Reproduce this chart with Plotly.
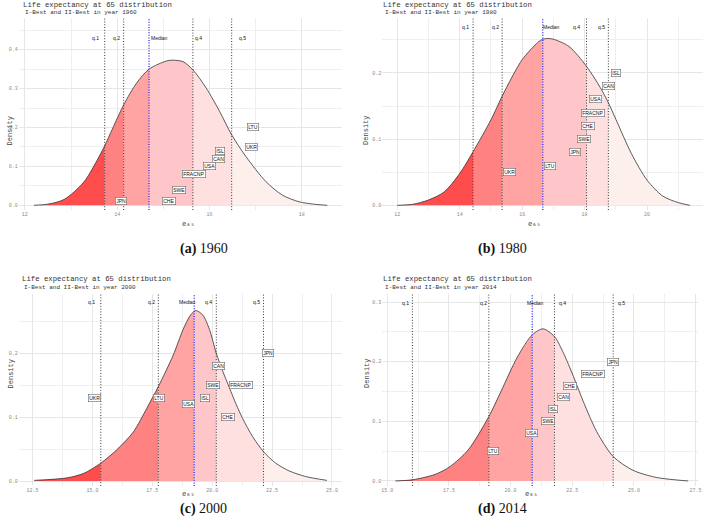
import plotly.graph_objects as go

W, H = 708, 530

# ---------------- data ----------------
years = [1960, 1980, 2000, 2014]
letters = ["a", "b", "c", "d"]

# density curves
x_1960 = [12.2, 12.5, 12.85, 13.28, 13.63, 13.73, 14.14, 14.42, 14.69, 15.07, 15.21, 15.43, 15.64,
          15.93, 16.22, 16.48, 16.79, 17.22, 17.58, 17.94, 18.25, 18.55]
d_1960 = [0.0, 0.003, 0.015, 0.06, 0.13, 0.153, 0.258, 0.314, 0.35, 0.371, 0.373, 0.369, 0.348,
          0.301, 0.241, 0.181, 0.125, 0.061, 0.026, 0.009, 0.003, 0.0]

x_1980 = [12.0, 12.5, 13.0, 13.5, 14.0, 14.43, 15.0, 15.36, 15.5, 16.0, 16.5, 16.66, 16.83, 17.0,
          17.5, 18.06, 18.5, 18.76, 19.0, 19.5, 20.0, 20.5, 21.0, 21.37]
d_1980 = [0.0, 0.0015, 0.008, 0.02, 0.048, 0.081, 0.129, 0.165, 0.178, 0.22, 0.246, 0.251, 0.252,
          0.251, 0.24, 0.21, 0.178, 0.155, 0.13, 0.078, 0.038, 0.014, 0.004, 0.0]

x_2000 = [12.57, 13.95, 14.64, 15.35, 16.02, 16.71, 17.27, 17.75, 18.37, 18.78, 19.06, 19.25, 19.34,
          19.61, 19.89, 20.17, 20.44, 20.72, 20.99, 21.27, 21.68, 22.14, 22.65, 23.2, 23.9, 24.79]
d_2000 = [0.001, 0.005, 0.012, 0.028, 0.049, 0.077, 0.114, 0.148, 0.197, 0.237, 0.258, 0.266, 0.267,
          0.26, 0.237, 0.2, 0.172, 0.146, 0.121, 0.098, 0.07, 0.046, 0.028, 0.016, 0.007, 0.001]

x_2014 = [15.33, 16.02, 16.94, 17.54, 18.28, 19.12, 19.61, 20.28, 20.88, 21.32, 21.78, 22.15, 22.55,
          22.95, 23.49, 24.16, 24.96, 25.9, 27.2]
d_2014 = [0.0, 0.002, 0.011, 0.024, 0.052, 0.108, 0.15, 0.208, 0.245, 0.255, 0.242, 0.214, 0.175,
          0.133, 0.083, 0.041, 0.018, 0.006, 0.0]

# quantiles (q.1, q.2, Median, q.4, q.5)
q_names = ["q.1", "q.2", "Median", "q.4", "q.5"]
q_1960 = [13.73, 14.14, 14.69, 15.64, 16.48]
q_1980 = [14.43, 15.36, 16.66, 18.06, 18.76]
q_2000 = [15.35, 17.75, 19.25, 20.17, 22.14]
q_2014 = [16.02, 19.12, 20.88, 21.78, 24.16]

qlab_x_1960 = [13.53, 13.98, 14.91, 15.76, 16.72]
qlab_x_1980 = [14.2, 15.15, 16.93, 17.73, 18.53]
qlab_x_2000 = [14.96, 17.47, 18.95, 19.86, 21.86]
qlab_x_2014 = [15.74, 18.92, 21.03, 22.09, 24.49]
qlab_y = [0.43, 0.27, 0.28, 0.299]

# country labels
c_1960 = ["LTU", "UKR", "ISL", "CAN", "USA", "FRACNP", "SWE", "JPN", "CHE"]
cx_1960 = [16.95, 16.90, 16.23, 16.2, 15.99, 15.66, 15.33, 14.08, 15.13]
cy_1960 = [0.2, 0.15, 0.14, 0.12, 0.10, 0.08, 0.04, 0.01, 0.01]

c_1980 = ["ISL", "CAN", "USA", "FRACNP", "CHE", "SWE", "JPN", "LTU", "UKR"]
cx_1980 = [19.0, 18.77, 18.35, 18.26, 18.1, 17.97, 17.68, 16.88, 15.58]
cy_1980 = [0.2, 0.18, 0.16, 0.14, 0.12, 0.10, 0.08, 0.06, 0.05]

c_2000 = ["JPN", "CAN", "SWE", "FRACNP", "UKR", "LTU", "ISL", "USA", "CHE"]
cx_2000 = [22.32, 20.25, 20.03, 21.2, 15.07, 17.76, 19.68, 19.02, 20.66]
cy_2000 = [0.2, 0.18, 0.15, 0.15, 0.13, 0.13, 0.13, 0.12, 0.10]

c_2014 = ["JPN", "FRACNP", "CHE", "CAN", "ISL", "SWE", "USA", "LTU"]
cx_2014 = [24.16, 23.33, 22.42, 22.15, 21.71, 21.5, 20.86, 19.29]
cy_2014 = [0.2, 0.18, 0.16, 0.14, 0.12, 0.10, 0.08, 0.05]

# axes
x_ranges = [[11.871, 18.86], [11.523, 21.79], [11.93, 25.4], [14.8, 27.6]]
y_ranges = [[-0.0121, 0.4814], [-0.0071, 0.283], [-0.0078, 0.293], [-0.0084, 0.3134]]
x_dticks = [2, 2, 2.5, 2.5]
x_formats = ["d", "d", ".1f", ".1f"]

seg_colors = ["#FF4D4D", "#FF8282", "#FFA3A3", "#FFC6C9", "#FFE0E0", "#FCEFEC"]

curves = [(x_1960, d_1960), (x_1980, d_1980), (x_2000, d_2000), (x_2014, d_2014)]
quants = [q_1960, q_1980, q_2000, q_2014]
qlabs = [qlab_x_1960, qlab_x_1980, qlab_x_2000, qlab_x_2014]
countries = [(c_1960, cx_1960, cy_1960), (c_1980, cx_1980, cy_1980),
             (c_2000, cx_2000, cy_2000), (c_2014, cx_2014, cy_2014)]

# ---------------- layout geometry (pixels) ----------------
dom_x = [(18, 343), (384, 707), (18, 343), (384, 702)]
dom_y = [(18, 210), (18, 210), (294, 486), (294, 486)]
title_pos = [(20, 5), (383, 5), (19, 279), (383, 279)]
ytitle_x = [4, 368, 4, 368]
xtitle_y = [224, 224, 500, 500]
caption_pos = [(178, 249), (532, 249), (178, 519), (532, 519)]

MONO = "Liberation Mono"
SANS = "Liberation Sans"
SERIF = "Liberation Serif"


def px(xp):
    return xp / W


def py(yp):
    return 1 - yp / H


fig = go.Figure()
shapes = []
annotations = []
layout = {}

for k in range(4):
    suf = "" if k == 0 else str(k + 1)
    xa, ya = "x" + suf, "y" + suf
    xs, ds = curves[k]
    q = quants[k]

    # shaded segments
    bounds = [0] + [xs.index(v) for v in q] + [len(xs) - 1]
    for s in range(6):
        i0, i1 = bounds[s], bounds[s + 1]
        fig.add_trace(go.Scatter(
            x=xs[i0:i1 + 1], y=ds[i0:i1 + 1], mode="lines", fill="tozeroy",
            fillcolor=seg_colors[s], line=dict(width=0, shape="spline", smoothing=0.8),
            xaxis=xa, yaxis=ya, hoverinfo="skip", showlegend=False))
    # outline
    fig.add_trace(go.Scatter(
        x=xs, y=ds, mode="lines", line=dict(color="#333333", width=0.8, shape="spline", smoothing=0.8),
        xaxis=xa, yaxis=ya, hoverinfo="skip", showlegend=False))

    # quantile lines
    for j, v in enumerate(q):
        is_med = q_names[j] == "Median"
        shapes.append(dict(
            type="line", xref=xa, yref=ya + " domain", x0=v, x1=v, y0=0, y1=1,
            line=dict(color="#3333EE" if is_med else "#333333", width=1.4 if is_med else 1,
                      dash="1px,1.6px" if is_med else "1px,1.8px"),
            layer="above"))
        annotations.append(dict(
            x=qlabs[k][j], y=qlab_y[k], xref=xa, yref=ya, text=q_names[j], showarrow=False,
            font=dict(family=SANS, size=5, color="#111111")))

    # country labels
    names, cxs, cys = countries[k]
    for n, cx, cy in zip(names, cxs, cys):
        annotations.append(dict(
            x=cx, y=cy, xref=xa, yref=ya, text=n, showarrow=False,
            font=dict(family=SANS, size=5, color="#111111"),
            bgcolor="white", bordercolor="#666666", borderwidth=0.6, borderpad=0.6))

    # axes
    x0p, x1p = dom_x[k]
    y0p, y1p = dom_y[k]
    layout["xaxis" + suf] = dict(
        domain=[px(x0p), px(x1p)], range=x_ranges[k], anchor=ya, dtick=x_dticks[k],
        tickformat=x_formats[k], showgrid=True, gridcolor="#E6E6E6", gridwidth=0.6,
        minor=dict(showgrid=True, gridcolor="#EFEFEF", gridwidth=0.5, dtick=x_dticks[k] / 2),
        zeroline=False, showline=False, ticks="",
        tickfont=dict(family=MONO, size=5, color="#8A8A8A"))
    layout["yaxis" + suf] = dict(
        domain=[py(y1p), py(y0p)], range=y_ranges[k], anchor=xa, dtick=0.1, tickformat=".1f",
        showgrid=True, gridcolor="#E6E6E6", gridwidth=0.6,
        minor=dict(showgrid=True, gridcolor="#EFEFEF", gridwidth=0.5, dtick=0.05),
        zeroline=False, showline=False, ticks="",
        tickfont=dict(family=MONO, size=5, color="#8A8A8A"))

    # titles
    tx, ty = title_pos[k]
    annotations.append(dict(
        x=px(tx), y=py(ty), xref="paper", yref="paper", xanchor="left", yanchor="middle",
        text="Life expectancy at 65 distribution", showarrow=False,
        font=dict(family=MONO, size=7.3, color="#333333")))
    annotations.append(dict(
        x=px(tx + 2), y=py(ty + 8), xref="paper", yref="paper", xanchor="left", yanchor="middle",
        text="I-Best and II-Best in year %d" % years[k], showarrow=False,
        font=dict(family=MONO, size=6, color="#333333")))
    # axis titles
    annotations.append(dict(
        x=px(ytitle_x[k]), y=py((y0p + y1p) / 2), xref="paper", yref="paper",
        text="Density", textangle=-90, showarrow=False,
        font=dict(family=MONO, size=7, color="#444444")))
    annotations.append(dict(
        x=px((x0p + x1p) / 2), y=py(xtitle_y[k]), xref="paper", yref="paper",
        text="e\u2086\u2085", showarrow=False,
        font=dict(family="DejaVu Sans Mono", size=7, color="#444444")))
    # captions
    cxp, cyp = caption_pos[k]
    annotations.append(dict(
        x=px(cxp), y=py(cyp), xref="paper", yref="paper",
        text="<b>(%s)</b> %d" % (letters[k], years[k]), showarrow=False,
        font=dict(family=SERIF, size=14, color="#111111")))

fig.update_layout(
    width=W, height=H, margin=dict(l=0, r=0, t=0, b=0),
    paper_bgcolor="white", plot_bgcolor="white",
    shapes=shapes, annotations=annotations, showlegend=False, **layout)

fig.write_html("out.html", config={"displayModeBar": False},
               post_script="document.body.style.margin='0px';document.body.style.overflow='hidden';")
